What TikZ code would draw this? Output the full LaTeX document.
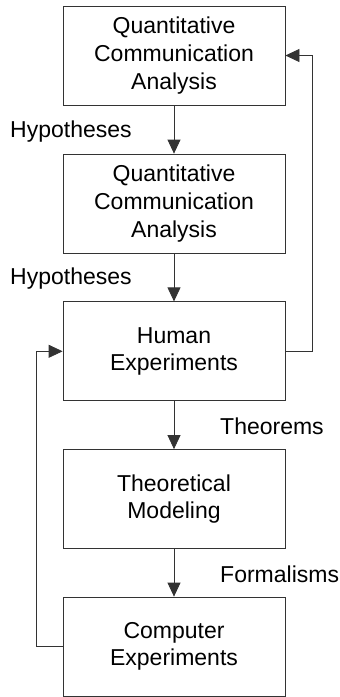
\documentclass[tikz,border=0pt]{standalone}
\usepackage{fontspec}
\setmainfont{Liberation Sans}
\usetikzlibrary{arrows.meta}

\tikzset{
  box/.style={draw=black!80, line width=0.8pt, minimum width=222pt, minimum height=99pt,
    align=center, inner sep=0pt, font=\fontsize{23}{27.6}\selectfont},
  flow/.style={draw=black!80, line width=0.8pt, -{Triangle[width=13pt,length=14pt]}},
  tag/.style={anchor=west, inner sep=0pt, font=\fontsize{23}{27.6}\selectfont},
}

\begin{document}
\begin{tikzpicture}[%
x=1pt, y=1pt,
]
\useasboundingbox (0,0) rectangle (340,-697);
%% boxes;
\node[box] (qca1) at (174,-55.5) {Quantitative\\Communication\\Analysis};
\node[box] (qca2) at (174,-203.5) {Quantitative\\Communication\\Analysis};
\node[box] (human) at (174,-351.3) {Human\\Experiments};
\node[box] (theory) at (174,-499) {Theoretical\\Modeling};
\node[box] (computer) at (174,-646.5) {Computer\\Experiments};
%% labels;
\node[tag] (hyp1) at (10,-131.7) {Hypotheses};
\node[tag] (hyp2) at (10,-279) {Hypotheses};
\node[tag] (thm) at (220,-426) {Theorems};
\node[tag] (form) at (220,-574) {Formalisms};
%% arrows down;
\draw[flow] (qca1) -- (qca2);
\draw[flow] (qca2) -- (human);
\draw[flow] (human) -- (theory);
\draw[flow] (theory) -- (computer);
%% feedback;
\draw[flow] (human.east) -- ++(27,0) |- (qca1.east);
\draw[flow] (computer.west) -- ++(-26.3,0) |- (human.west);
\end{tikzpicture}
\end{document}
